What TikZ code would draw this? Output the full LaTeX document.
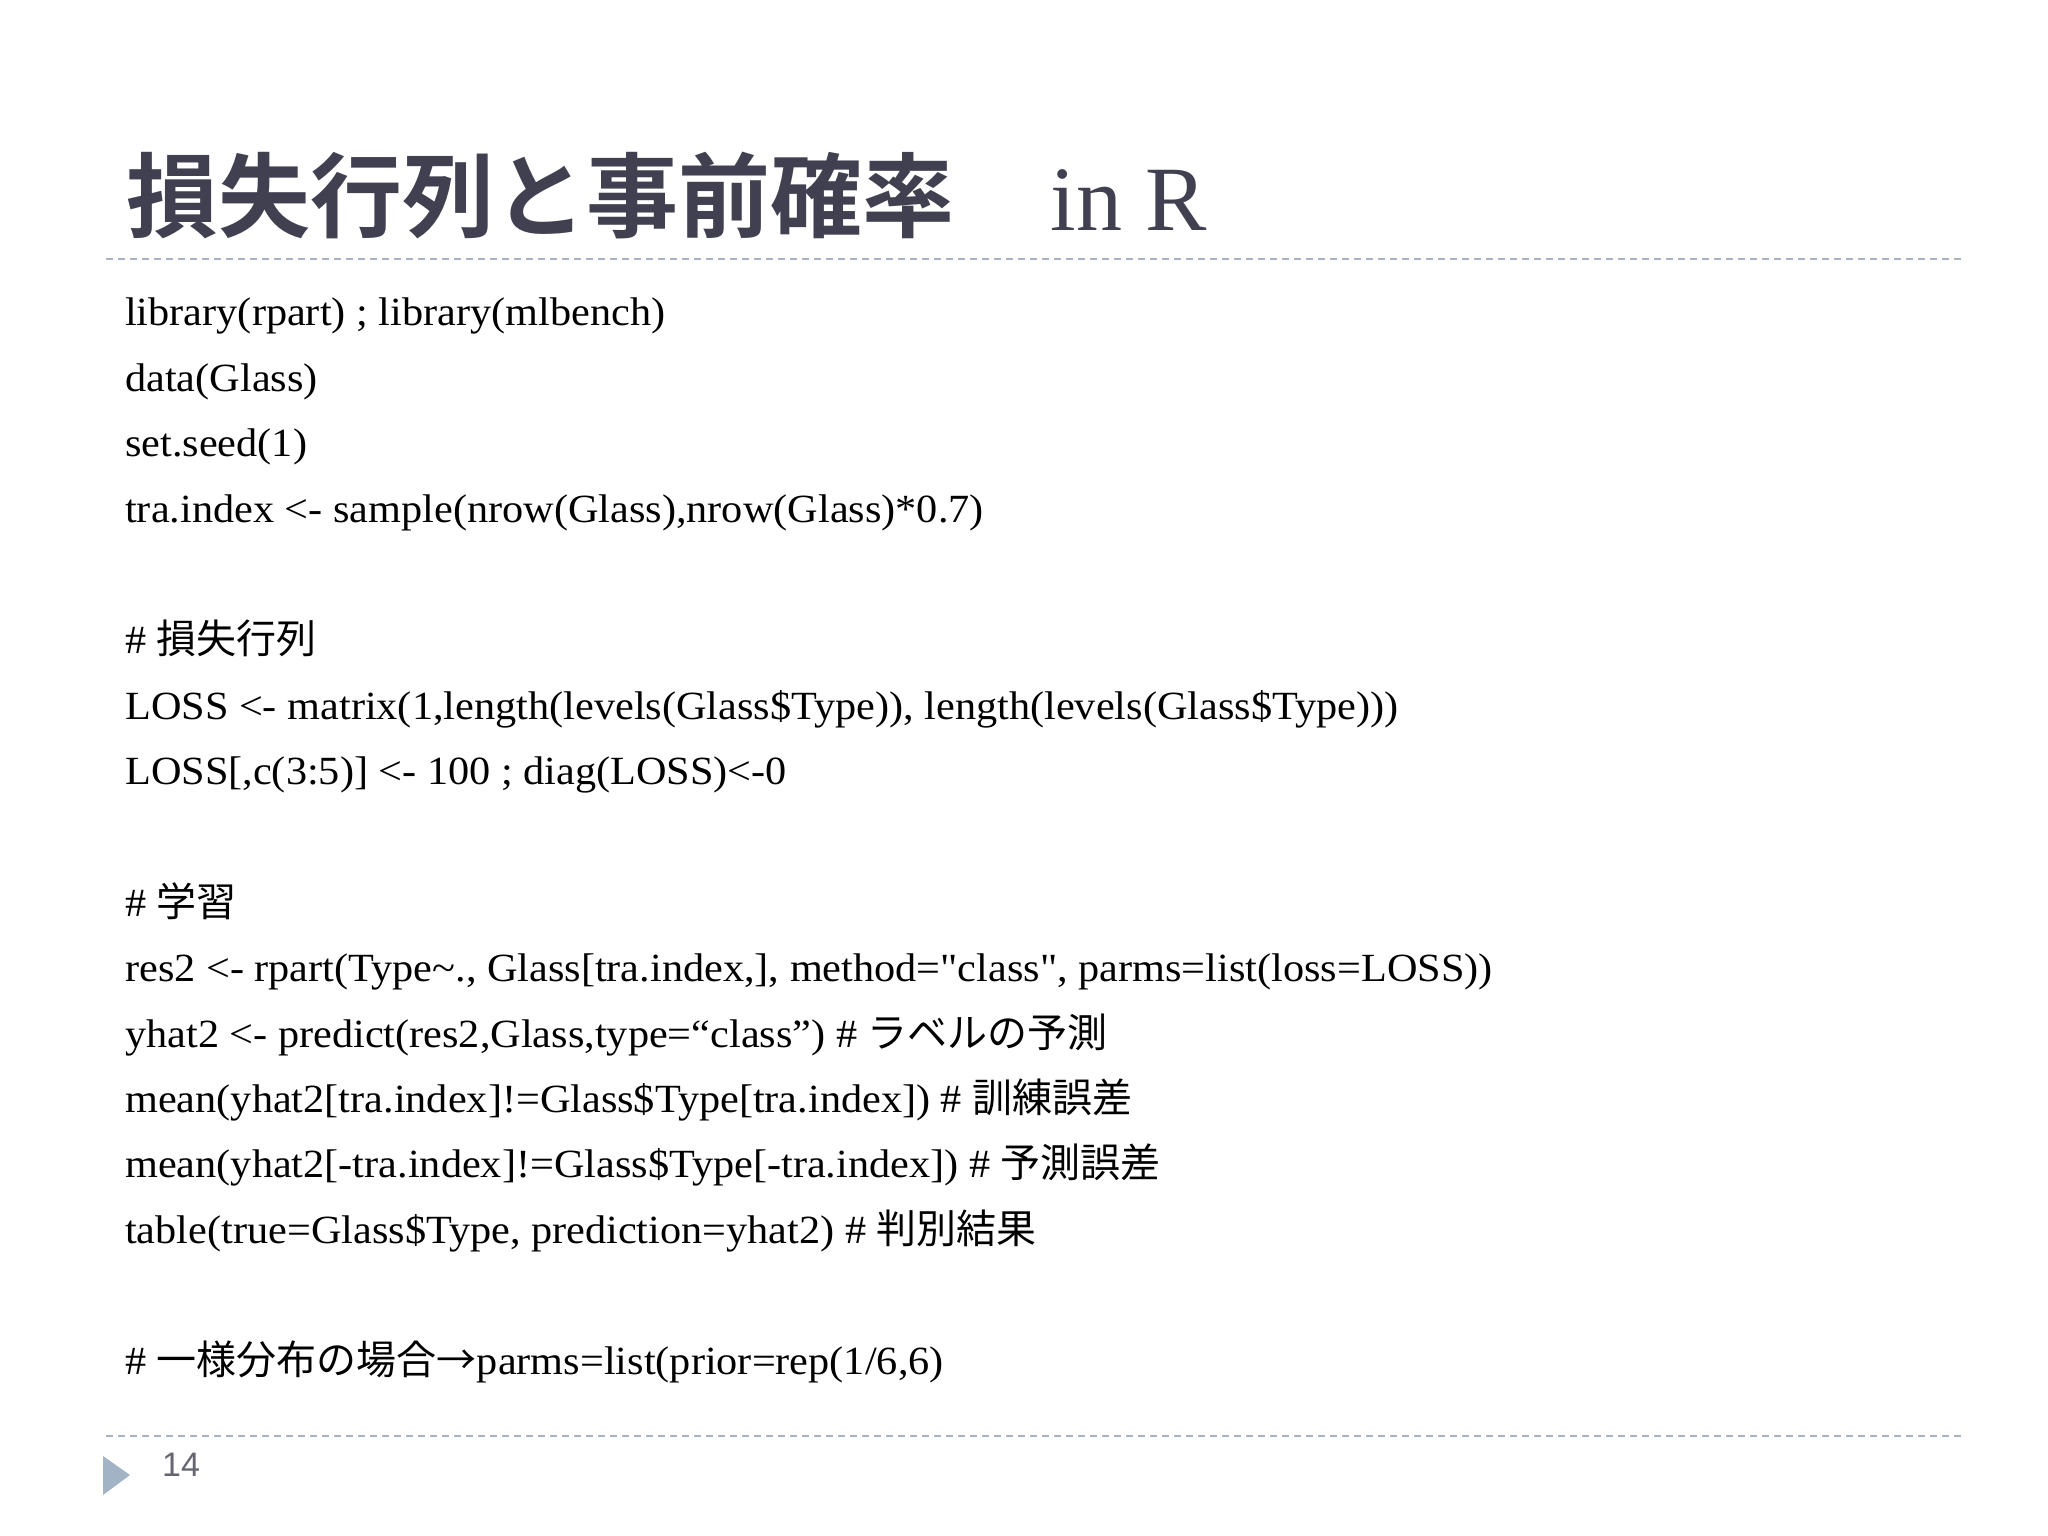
\documentclass[tikz,border=0pt]{standalone}
\usepackage{fontspec}
\setmainfont{Liberation Serif}
\newfontfamily\codef[FakeStretch=1.057]{Liberation Serif}
\newfontfamily\jp{Noto Sans CJK JP}
\newfontfamily\jpb{Noto Sans CJK JP Bold}
\newfontfamily\gs{Liberation Sans}
\definecolor{titlec}{HTML}{404050}
\definecolor{dashc}{HTML}{A8B4C4}
\definecolor{tric}{HTML}{A3B3C6}
\newcommand{\dq}{\symbol{34}}
\begin{document}
\begin{tikzpicture}[x=1pt,y=-1pt,
  code/.style={anchor=mid west,inner sep=0pt,font=\codef\fontsize{40}{42}\selectfont},
  sep/.style={draw=dashc,line width=1.8pt,dash pattern=on 7pt off 5pt}]
\useasboundingbox (0,0) rectangle (2048,1536);
\node[anchor=base west,inner sep=0pt,text=titlec] (title) at (126,230)
  {\fontsize{92}{94}\selectfont{\jpb 損失行列と事前確率}\hspace{1.05em}in R};
\coordinate (s1) at (106,259); \coordinate (e1) at (1964,259);
\draw[sep] (s1) -- (e1);
\node[code] (l1) at (125,323) {library(rpart) ; library(mlbench)};
\node[code] (l2) at (125,389) {data(Glass)};
\node[code] (l3) at (125,454) {set.seed(1)};
\node[code] (l4) at (125,520) {tra.index <- sample(nrow(Glass),nrow(Glass)*0.7)};
\node[code] (l5) at (125,651) {\# {\jp 損失行列}};
\node[code] (l6) at (125,717) {LOSS <- matrix(1,length(levels(Glass\$Type)), length(levels(Glass\$Type)))};
\node[code] (l7) at (125,782) {LOSS[,c(3:5)] <- 100 ; diag(LOSS)<-0};
\node[code] (l8) at (125,914) {\# {\jp 学習}};
\node[code] (l9) at (125,979) {res2 <- rpart(Type\textasciitilde., Glass[tra.index,], method=\dq class\dq, parms=list(loss=LOSS))};
\node[code] (l10) at (125,1045) {yhat2 <- predict(res2,Glass,type=“class”) \# {\jp ラベルの予測}};
\node[code] (l11) at (125,1110) {mean(yhat2[tra.index]!=Glass\$Type[tra.index]) \# {\jp 訓練誤差}};
\node[code] (l12) at (125,1175) {mean(yhat2[-tra.index]!=Glass\$Type[-tra.index]) \# {\jp 予測誤差}};
\node[code] (l13) at (125,1241) {table(true=Glass\$Type, prediction=yhat2) \# {\jp 判別結果}};
\node[code] (l14) at (125,1372) {\# {\jp 一様分布の場合→}parms=list(prior=rep(1/6,6)};
\coordinate (s2) at (106,1436); \coordinate (e2) at (1964,1436);
\draw[sep] (s2) -- (e2);
\fill[tric] (103,1456) -- (130,1475) -- (103,1495) -- cycle;
\node[anchor=mid west,inner sep=0pt,text=titlec!80,font=\gs\fontsize{34}{36}\selectfont] (pg) at (162,1474) {14};
\end{tikzpicture}
\end{document}
